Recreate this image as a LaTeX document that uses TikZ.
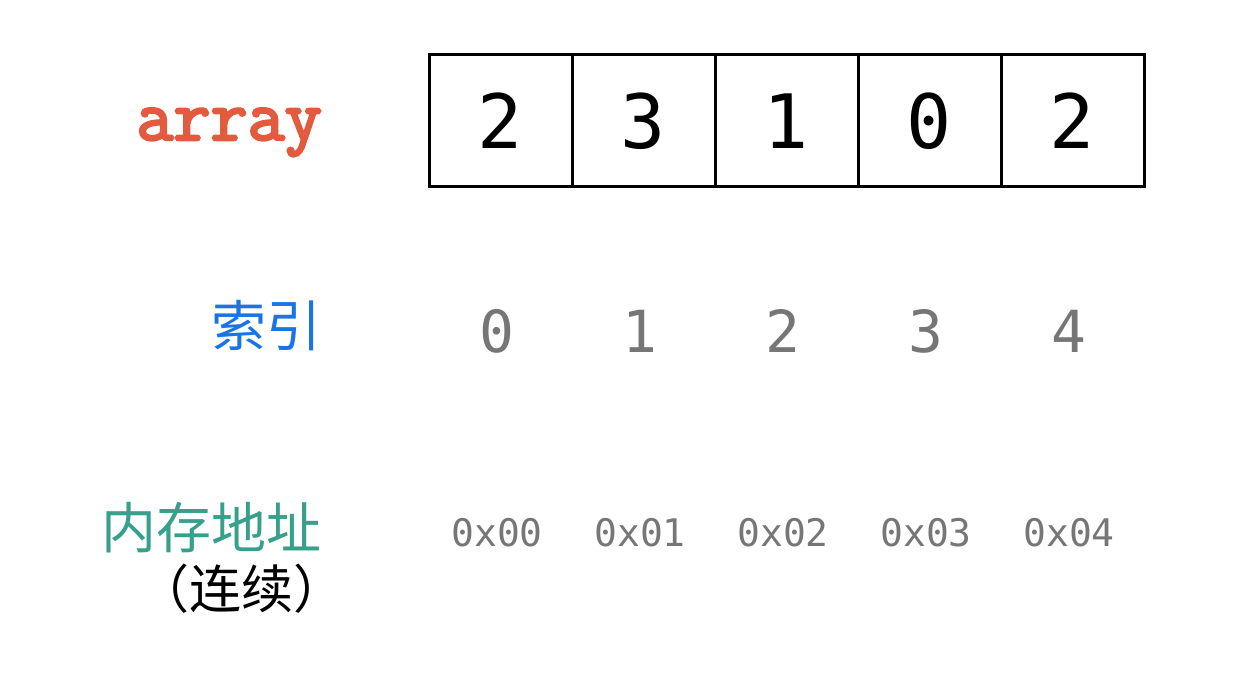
\documentclass[tikz,border=0pt]{standalone}
\usepackage{fontspec}
\newfontfamily\digitfont{DejaVu Sans Mono}
\newfontfamily\cjkfont{Noto Sans CJK SC}
\newfontfamily\codefont[FakeBold=3.5]{Latin Modern Mono}
\definecolor{arrred}{HTML}{E25B3E}
\definecolor{idxblue}{HTML}{1A74E6}
\definecolor{memgreen}{HTML}{36A08A}
\definecolor{numgray}{HTML}{767676}
\tikzset{
  cellbox/.style={draw=black, line width=3pt, minimum width=143pt, minimum height=132pt, inner sep=0pt, font=\digitfont\fontsize{75}{75}\selectfont},
  idxnum/.style={inner sep=0pt, text=numgray, font=\digitfont\fontsize{58}{58}\selectfont},
  addr/.style={inner sep=0pt, text=numgray, font=\digitfont\fontsize{38}{38}\selectfont},
  rowlabel/.style={inner sep=0pt, anchor=east, font=\cjkfont\fontsize{55}{55}\selectfont}
}
\begin{document}
\begin{tikzpicture}[x=1pt,y=-1pt]
\useasboundingbox (0,0) rectangle (1256,676);
% array cells
\node[cellbox] (c0) at (500.5,121) {2};
\node[cellbox] (c1) at (643.5,121) {3};
\node[cellbox] (c2) at (786.5,121) {1};
\node[cellbox] (c3) at (929.5,121) {0};
\node[cellbox] (c4) at (1072.5,121) {2};
% labels
\node[inner sep=0pt, anchor=base east, text=arrred, font=\codefont\fontsize{72}{72}\selectfont] (lab) at (322,140) {array};
\node[rowlabel, text=idxblue] (idx) at (322,326) {索引};
\node[rowlabel, text=memgreen] (mem) at (322,528) {内存地址};
\node[inner sep=0pt, font=\cjkfont\fontsize{52}{52}\selectfont] (cont) at (241,589) {（连续）};
% indices
\node[idxnum] (i0) at (497,331) {0};
\node[idxnum] (i1) at (640,331) {1};
\node[idxnum] (i2) at (783,331) {2};
\node[idxnum] (i3) at (926,331) {3};
\node[idxnum] (i4) at (1069,331) {4};
% addresses
\node[addr] (a0) at (497,533) {0x00};
\node[addr] (a1) at (640,533) {0x01};
\node[addr] (a2) at (783,533) {0x02};
\node[addr] (a3) at (926,533) {0x03};
\node[addr] (a4) at (1069,533) {0x04};
\end{tikzpicture}
\end{document}
